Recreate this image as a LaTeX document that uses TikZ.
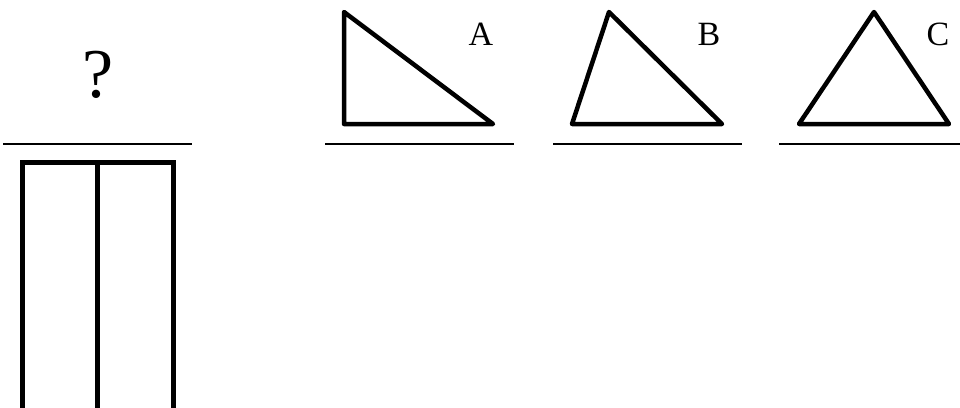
\documentclass[tikz,border=0pt]{standalone}
\usepackage{fontspec}
\setmainfont{Liberation Serif}
\begin{document}
\begin{tikzpicture}[x=1pt,y=-1pt,
  baseline/.style={line width=2pt},
  tri/.style={line width=4.5pt,line join=round,line cap=round},
  frame/.style={line width=5pt},
  lab/.style={font=\fontsize{34}{34}\selectfont,inner sep=0pt,anchor=base}]
\useasboundingbox[fill=white] (0,0) rectangle (960,407);
% left panel
\node[font=\fontsize{70}{70}\selectfont,inner sep=0pt,anchor=base] (q) at (98,97) {?};
\coordinate (l0a) at (3,143.5); \coordinate (l0b) at (192,143.5);
\draw[baseline] (l0a) -- (l0b);
\coordinate (r1) at (22,162); \coordinate (r2) at (173.5,420);
\draw[frame] (r1) rectangle (r2);
\coordinate (m1) at (97.5,162); \coordinate (m2) at (97.5,420);
\draw[frame] (m1) -- (m2);
% A
\coordinate (a1) at (344,12); \coordinate (a2) at (344,124); \coordinate (a3) at (493,124);
\draw[tri] (a1) -- (a2) -- (a3) -- cycle;
\node[lab] (la) at (481,45) {A};
\coordinate (la1) at (325,143.5); \coordinate (la2) at (514,143.5);
\draw[baseline] (la1) -- (la2);
% B
\coordinate (b1) at (609,12); \coordinate (b2) at (572,124); \coordinate (b3) at (722,124);
\draw[tri] (b1) -- (b2) -- (b3) -- cycle;
\node[lab] (lb) at (709,45) {B};
\coordinate (lb1) at (553,143.5); \coordinate (lb2) at (742,143.5);
\draw[baseline] (lb1) -- (lb2);
% C
\coordinate (c1) at (874,12); \coordinate (c2) at (799,124); \coordinate (c3) at (949,124);
\draw[tri] (c1) -- (c2) -- (c3) -- cycle;
\node[lab] (lc) at (938,45) {C};
\coordinate (lc1) at (779,143.5); \coordinate (lc2) at (968,143.5);
\draw[baseline] (lc1) -- (lc2);
\end{tikzpicture}
\end{document}
